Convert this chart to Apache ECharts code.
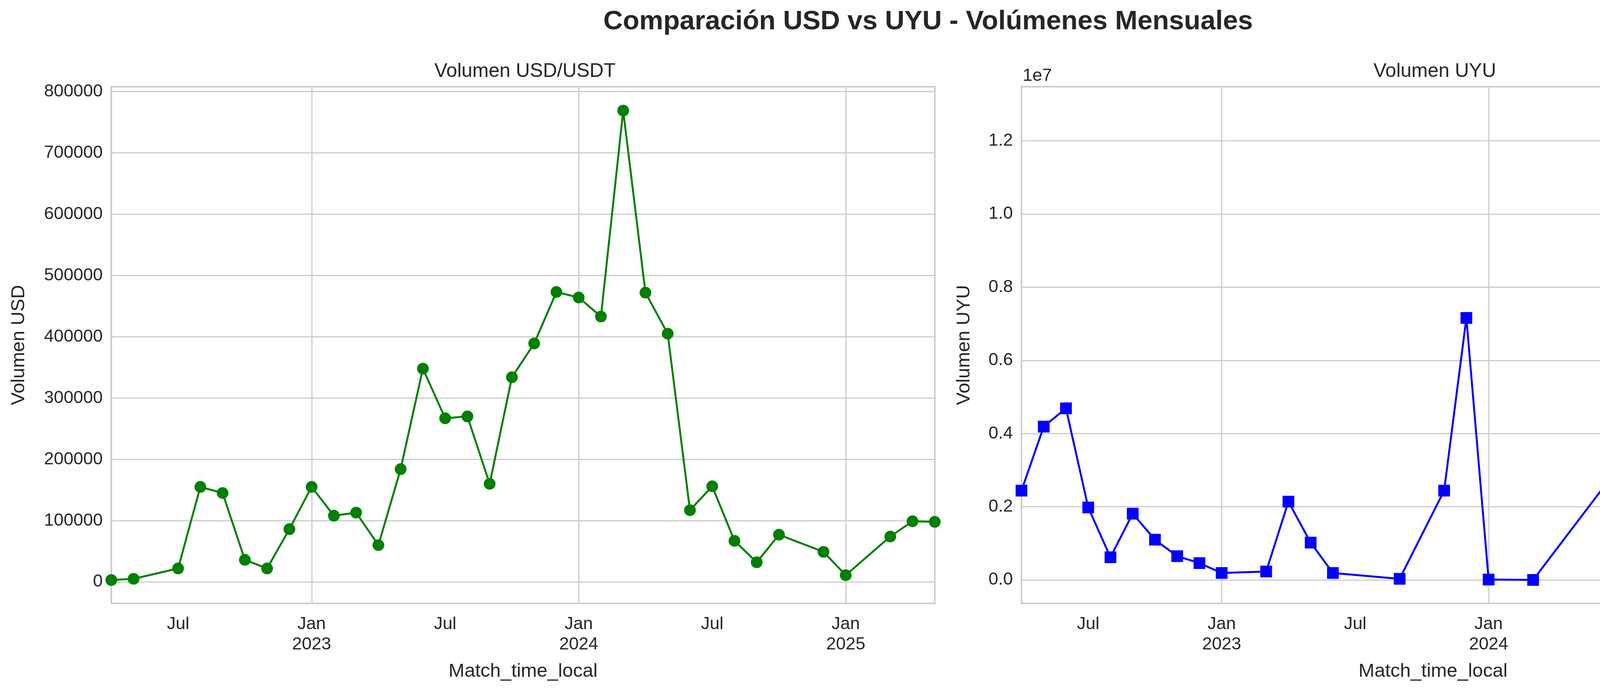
<!DOCTYPE html>
<html>
<head>
<meta charset="utf-8">
<script src="https://cdn.jsdelivr.net/npm/echarts@6/dist/echarts.min.js"></script>
<style>
  html, body { margin: 0; padding: 0; background: #fff; }
  #chart { width: 4752px; height: 1772px; }
</style>
</head>
<body>
<div id="chart"></div>
<script>
// month axis, Apr 2022 .. May 2025
var months = [];
for (var y = 2022; y <= 2025; y++) {
    for (var m = 1; m <= 12; m++) {
        var key = y + '-' + (m < 10 ? '0' + m : m);
        if (key >= '2022-04' && key <= '2025-05') months.push(key);
    }
}

var usdMonths = ['2022-04', '2022-05', '2022-07', '2022-08', '2022-09', '2022-10', '2022-11', '2022-12',
    '2023-01', '2023-02', '2023-03', '2023-04', '2023-05', '2023-06', '2023-07', '2023-08', '2023-09',
    '2023-10', '2023-11', '2023-12', '2024-01', '2024-02', '2024-03', '2024-04', '2024-05', '2024-06',
    '2024-07', '2024-08', '2024-09', '2024-10', '2024-12', '2025-01', '2025-03', '2025-04', '2025-05'];
var usdValues = [3000, 5000, 22000, 155000, 145000, 36000, 22000, 86000,
    155000, 108000, 113000, 60000, 184000, 348000, 267000, 270000, 160000,
    334000, 389000, 473000, 464000, 433000, 769000, 472000, 405000, 117000,
    156000, 67000, 32000, 77000, 49000, 11000, 74000, 99000, 98000];

var uyuMonths = ['2022-04', '2022-05', '2022-06', '2022-07', '2022-08', '2022-09', '2022-10', '2022-11',
    '2022-12', '2023-01', '2023-03', '2023-04', '2023-05', '2023-06', '2023-09', '2023-11', '2023-12',
    '2024-01', '2024-03', '2025-03', '2025-04', '2025-05'];
var uyuValues = [2440000, 4190000, 4690000, 1980000, 620000, 1810000, 1100000, 650000,
    460000, 190000, 230000, 2140000, 1020000, 190000, 30000, 2440000, 7160000,
    10000, 0, 9600000, 12820000, 4310000];

var usdTicks = [0, 100000, 200000, 300000, 400000, 500000, 600000, 700000, 800000];
var uyuTicks = [0, 2000000, 4000000, 6000000, 8000000, 10000000, 12000000];

function pairs(ms, vs) {
    return ms.map(function (k, i) { return [k, vs[i]]; });
}

var FONT = 'Liberation Sans, Arial, sans-serif';
var TXT = '#262626';
var GRIDC = '#cccccc';

function xAxis(gridIndex) {
    return {
        type: 'category', gridIndex: gridIndex, data: months, boundaryGap: false,
        axisLine: { show: false }, axisTick: { show: false },
        axisLabel: {
            interval: function (i, v) { var mm = v.slice(5); return mm === '01' || mm === '07'; },
            formatter: function (v) {
                var mm = v.slice(5);
                return mm === '07' ? 'Jul' : 'Jan\n' + v.slice(0, 4);
            },
            fontFamily: FONT, fontSize: 45, color: TXT, margin: 28, lineHeight: 52
        },
        splitLine: {
            show: true, lineStyle: { color: GRIDC, width: 3 },
            interval: function (i, v) { return v.slice(5) === '01'; }
        },
        name: 'Match_time_local', nameLocation: 'middle', nameGap: 150,
        nameTextStyle: { fontFamily: FONT, fontSize: 49, color: TXT }
    };
}

function yAxis(gridIndex, min, max, ticks, name, gap, fmt) {
    return {
        type: 'value', gridIndex: gridIndex, min: min, max: max,
        axisLine: { show: false },
        axisTick: { show: false, customValues: ticks },
        axisLabel: { customValues: ticks, formatter: fmt, fontFamily: FONT, fontSize: 45, color: TXT, margin: 22 },
        splitLine: { show: true, lineStyle: { color: GRIDC, width: 3 } },
        name: name, nameLocation: 'middle', nameGap: gap,
        nameTextStyle: { fontFamily: FONT, fontSize: 49, color: TXT }
    };
}

var chart = echarts.init(document.getElementById('chart'));
chart.setOption({
    backgroundColor: '#fff',
    animation: false,
    title: [
        { text: 'Comparación USD vs UYU - Volúmenes Mensuales', left: 'center', top: 16,
          textStyle: { fontFamily: FONT, fontSize: 69, fontWeight: 'bold', color: TXT } },
        { text: 'Volumen USD/USDT', left: 1339, textAlign: 'center', top: 153,
          textStyle: { fontFamily: FONT, fontSize: 50, fontWeight: 'normal', color: TXT } },
        { text: 'Volumen UYU', left: 3668, textAlign: 'center', top: 153,
          textStyle: { fontFamily: FONT, fontSize: 50, fontWeight: 'normal', color: TXT } }
    ],
    graphic: [
        { type: 'text', left: 2618, top: 172,
          style: { text: '1e7', fontFamily: FONT, fontSize: 45, fill: TXT } }
    ],
    grid: [
        { left: 285, right: 4752 - 2393, top: 222, bottom: 1772 - 1545, show: true,
          borderColor: GRIDC, borderWidth: 4, backgroundColor: 'transparent' },
        { left: 2615, right: 4752 - 4722, top: 222, bottom: 1772 - 1545, show: true,
          borderColor: GRIDC, borderWidth: 4, backgroundColor: 'transparent' }
    ],
    xAxis: [xAxis(0), xAxis(1)],
    yAxis: [
        yAxis(0, -35000, 808000, usdTicks, 'Volumen USD', 212, function (v) { return String(v); }),
        yAxis(1, -640000, 13480000, uyuTicks, 'Volumen UYU', 122, function (v) { return (v / 1e7).toFixed(1); })
    ],
    series: [
        { type: 'line', xAxisIndex: 0, yAxisIndex: 0, data: pairs(usdMonths, usdValues),
          symbol: 'circle', symbolSize: 30, itemStyle: { color: '#008000' },
          lineStyle: { color: '#008000', width: 5 }, clip: true },
        { type: 'line', xAxisIndex: 1, yAxisIndex: 1, data: pairs(uyuMonths, uyuValues),
          symbol: 'rect', symbolSize: 30, itemStyle: { color: '#0000ff' },
          lineStyle: { color: '#0000ff', width: 5 }, clip: true }
    ]
});
</script>
</body>
</html>
